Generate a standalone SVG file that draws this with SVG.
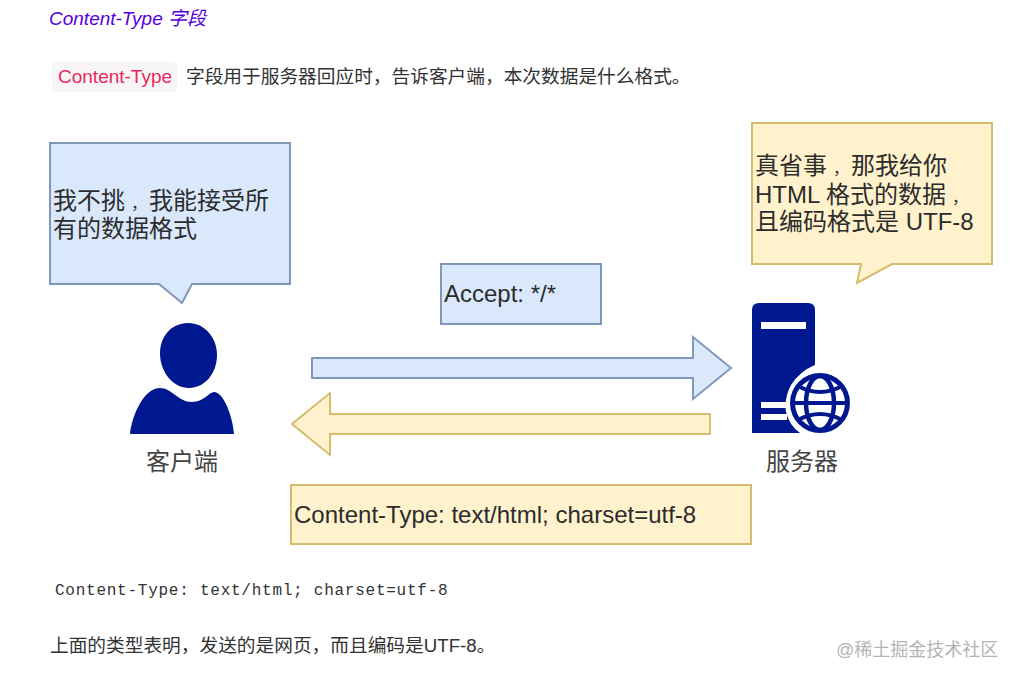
<svg xmlns="http://www.w3.org/2000/svg" width="1017" height="681" viewBox="0 0 1017 681">
<style>
.s{font-family:"Liberation Sans","Noto Sans CJK SC",sans-serif}
.d{font-size:24px;fill:#2c2c2c}
.p{font-size:18.7px;fill:#333}
.b{fill:#dae8fc;stroke:#7f98ba;stroke-width:2}
.y{fill:#fff2cc;stroke:#d6bc6c;stroke-width:2}
.n{fill:#00188f}
.l{font-size:24px;fill:#444}
.c{font-size:16px}
</style>
<rect width="1017" height="681" fill="#fff"/>
<text class="s" x="49" y="25" font-size="19" font-style="italic" fill="#5500dd">Content-Type 字段</text>
<rect x="52" y="62" width="125" height="30" rx="4" fill="#f8f5f6"/>
<text class="s" x="58" y="83" font-size="19" fill="#e8285f">Content-Type</text>
<text class="s p" x="186" y="83">字段用于服务器回应时，告诉客户端，本次数据是什么格式。</text>
<g id="client-bubble">
<path class="b" d="M50 143H290V284H192L182 303L159 284H50Z"/>
<text class="s d" x="53" y="209">我不挑<tspan class="c" dx="6">，</tspan><tspan dx="2">我能接受所</tspan></text>
<text class="s d" x="53" y="237">有的数据格式</text>
</g>
<g id="server-bubble">
<path class="y" d="M752 123H992V264H892L857 283L861 264H752Z"/>
<text class="s d" x="755" y="174">真省事<tspan class="c" dx="6">，</tspan><tspan dx="2">那我给你</tspan></text>
<text class="s d" x="755" y="203">HTML 格式的数据<tspan class="c" dx="6">，</tspan></text>
<text class="s d" x="755" y="230">且编码格式是 UTF-8</text>
</g>
<g id="accept-box">
<rect class="b" x="441" y="264" width="160" height="60"/>
<text class="s d" x="444" y="302">Accept: */*</text>
</g>
<g id="client">
<path class="n" d="M188 323C205 323 217 338 217 355C217 374 204 388 189 388C173 388 160 372 160 353C160 337 171 323 188 323Z"/>
<path class="n" d="M130 434C132 415 144 388 160 388C172 388 178 402 192 402C204 402 209 392 214 392C224 392 233 418 234 434Z"/>
<text class="s l" x="146" y="470">客户端</text>
</g>
<g id="server">
<path class="n" d="M752 433V310Q752 303 759 303H808Q815 303 815 310V365Q800 371 791 385Q784 398 786 412Q789 425 800 433Z"/>
<rect x="761" y="322" width="45" height="7" fill="#fff"/>
<path d="M761 405H786M761 417H787" stroke="#fff" stroke-width="6" fill="none"/>
<g fill="none" stroke="#00188f">
<circle cx="820" cy="403" r="27.500" stroke-width="5"/>
<ellipse cx="820" cy="403" rx="14" ry="27" stroke-width="4.500"/>
<path d="M793 403H847M798 386Q820 398 842 386M798 420Q820 408 842 420" stroke-width="4"/>
</g>
<text class="s l" x="766" y="470">服务器</text>
</g>
<g id="connectors">
<path class="b" d="M312 358H693V337L731 368L693 399V378H312Z"/>
<path class="y" d="M710 414H330V393L292 424L330 455V434H710Z"/>
</g>
<g id="content-type-box">
<rect class="y" x="291" y="485" width="460" height="59"/>
<text class="s d" x="294" y="523">Content-Type: text/html; charset=utf-8</text>
</g>
<text x="55" y="595" font-family="'Liberation Mono','Noto Sans CJK SC',monospace" font-size="16" letter-spacing="0.75" fill="#333">Content-Type: text/html; charset=utf-8</text>
<text class="s p" x="50" y="652">上面的类型表明，发送的是网页，而且编码是UTF-8。</text>
<text class="s" x="836" y="656" font-size="18" fill="#b4b4b4">@稀土掘金技术社区</text>
</svg>
